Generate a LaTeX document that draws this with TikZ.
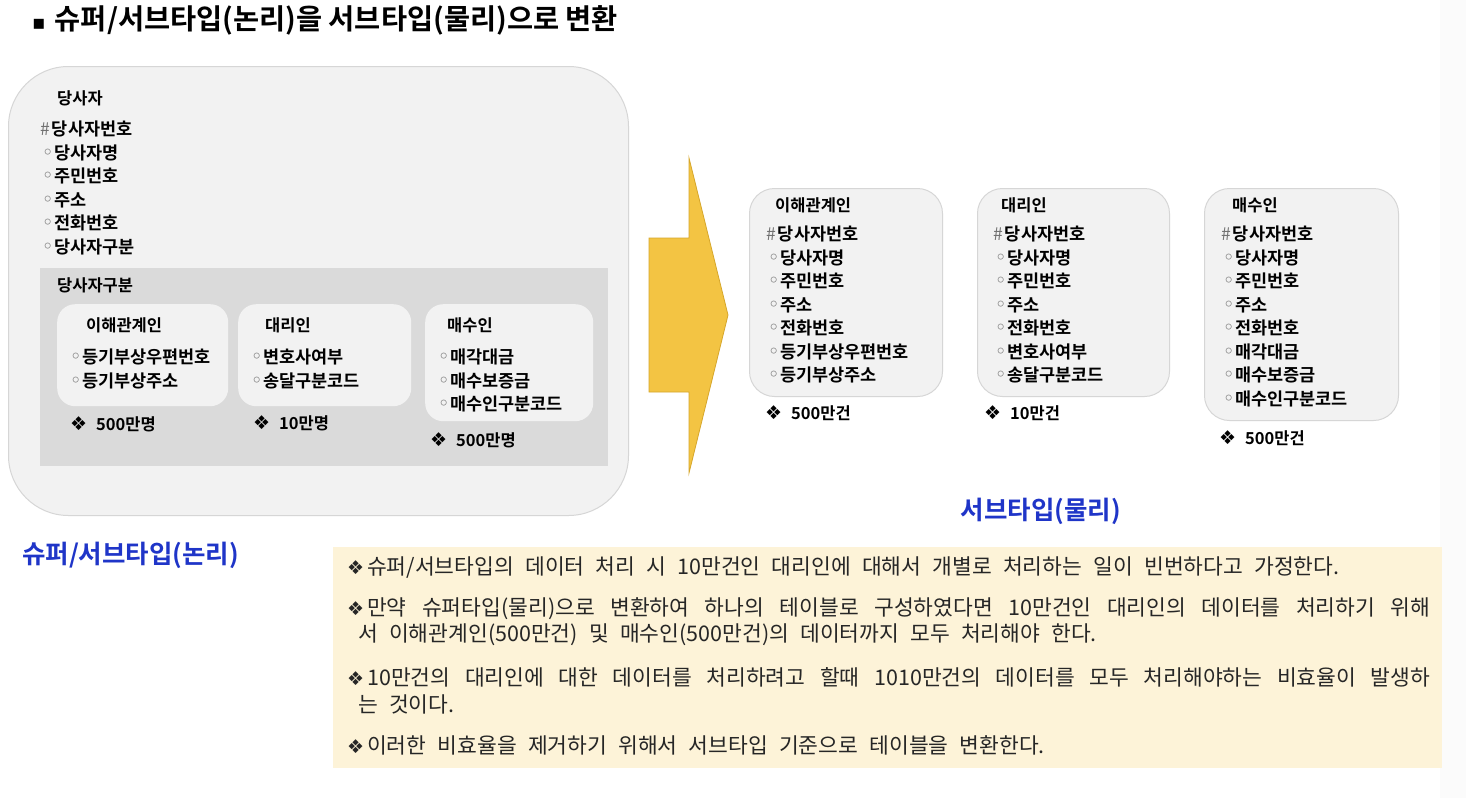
\documentclass[tikz,border=0pt]{standalone}
\usepackage{fontspec}
\setmainfont{Noto Sans CJK KR}[BoldFont={* Bold}]
\newfontfamily\symfont{DejaVu Sans}
\usetikzlibrary{positioning}

\definecolor{boxgray}{HTML}{F2F2F2}
\definecolor{edgegray}{HTML}{D6D6D6}
\definecolor{groupgray}{HTML}{DADADA}
\definecolor{arrowgold}{HTML}{F3C443}
\definecolor{arrowedge}{HTML}{D6A62A}
\definecolor{labelblue}{HTML}{1F35C8}
\definecolor{notecream}{HTML}{FDF3D8}
\definecolor{keygray}{HTML}{707070}
\definecolor{notetext}{HTML}{262626}

\newcommand{\keymark}{{\mdseries\color{keygray}\#}\hspace{2pt}}
\newcommand{\attrdot}{\makebox[11pt][c]{\symfont\mdseries\color{keygray}\fontsize{20}{20}\selectfont ◦}\hspace{1pt}}
\newcommand{\countmark}{\makebox[14pt][l]{\symfont\fontsize{19}{19}\selectfont ❖}}
\newcommand{\notespacing}{\spaceskip=0.52em plus 1fil\relax}

\begin{document}
\begin{tikzpicture}[
			x=1pt, y=-1pt,
			node distance=10pt and 10pt,
			bigbox/.style={rectangle, rounded corners=60pt, draw=edgegray, fill=boxgray, line width=1pt, anchor=north west, inner sep=0pt},
			groupbox/.style={rectangle, fill=groupgray, anchor=north west, inner sep=0pt},
			subbox/.style={rectangle, rounded corners=18pt, fill=boxgray, anchor=north west, inner sep=0pt},
			tablebox/.style={rectangle, rounded corners=25pt, draw=edgegray, fill=boxgray, line width=1pt, anchor=north west, inner sep=0pt},
			boxtitle/.style={anchor=west, inner sep=0pt, font=\bfseries\fontsize{16.5}{19}\selectfont},
			attrlist/.style={anchor=north west, inner sep=0pt, align=left, font=\bfseries\fontsize{17.5}{23.5}\selectfont},
			count/.style={anchor=west, inner sep=0pt, font=\bfseries\fontsize{16.5}{20}\selectfont},
			bluelabel/.style={inner sep=0pt, text=labelblue, font=\bfseries\fontsize{25.5}{28}\selectfont},
			noteline/.style={anchor=west, inner sep=0pt, text=notetext, font={\fontsize{21.5}{25}\selectfont\notespacing}}
		]
		\useasboundingbox (0,0) rectangle (1466,798);
		\fill[white] (0,0) rectangle (1466,798);
		\fill[black!1.5] (1440,0) rectangle (1466,798);

		% --- TITOLO ---
		\node (title) [anchor=west, inner sep=0pt, font=\bfseries\fontsize{28.4}{31}\selectfont] at (32,20) {{\symfont\fontsize{20}{20}\selectfont ▪}\hspace{9pt}슈퍼/서브타입(논리)을 서브타입(물리)으로 변환};

		% --- SUPER/SUB TIPO (LOGICO) ---
		\node (party) [bigbox, minimum width=620, minimum height=449] at (8,66) {};
		\node (party_title) [boxtitle] at (57,98) {당사자};
		\node (party_attrs) [attrlist] at (40,121) {\keymark 당사자번호\\\hspace{2pt}\attrdot 당사자명\\\hspace{2pt}\attrdot 주민번호\\\hspace{2pt}\attrdot 주소\\\hspace{2pt}\attrdot 전화번호\\\hspace{2pt}\attrdot 당사자구분};

		% Blocco sottotipi
		\node (group) [groupbox, minimum width=568, minimum height=198] at (40,268) {};
		\node (group_title) [boxtitle] at (57,285) {당사자구분};

		\node (sub_int) [subbox, minimum width=171, minimum height=102] at (57,304) {};
		\node (sub_int_title) [boxtitle] at (86,325) {이해관계인};
		\node (sub_int_attrs) [attrlist] at (70,349) {\attrdot 등기부상우편번호\\\attrdot 등기부상주소};
		\node (sub_int_cnt) [count] at (70,424) {\countmark\hspace{12pt}500만명};

		\node (sub_agt) [subbox, minimum width=173, minimum height=102] at (238,304) {};
		\node (sub_agt_title) [boxtitle] at (265,325) {대리인};
		\node (sub_agt_attrs) [attrlist] at (251,349) {\attrdot 변호사여부\\\attrdot 송달구분코드};
		\node (sub_agt_cnt) [count] at (253,423) {\countmark\hspace{12pt}10만명};

		\node (sub_buy) [subbox, minimum width=168, minimum height=117] at (425,304) {};
		\node (sub_buy_title) [boxtitle] at (447,325) {매수인};
		\node (sub_buy_attrs) [attrlist] at (438,349) {\attrdot 매각대금\\\attrdot 매수보증금\\\attrdot 매수인구분코드};
		\node (sub_buy_cnt) [count] at (430,440) {\countmark\hspace{12pt}500만명};

		\node (logic_label) [bluelabel, anchor=west] at (22,555) {슈퍼/서브타입(논리)};

		% --- FRECCIA DI CONVERSIONE ---
		\filldraw[fill=arrowgold, draw=arrowedge, line width=0.8pt] (649,238) -- (689,238) -- (689,158) -- (728,315) -- (689,473) -- (689,392) -- (649,392) -- cycle;

		% --- SOTTOTIPI (FISICO) ---
		\node (tab_int) [tablebox, minimum width=193, minimum height=208] at (749,188) {};
		\node (tab_int_title) [boxtitle] at (775,205) {이해관계인};
		\node (tab_int_attrs) [attrlist] at (766,226) {\keymark 당사자번호\\\hspace{2pt}\attrdot 당사자명\\\hspace{2pt}\attrdot 주민번호\\\hspace{2pt}\attrdot 주소\\\hspace{2pt}\attrdot 전화번호\\\hspace{2pt}\attrdot 등기부상우편번호\\\hspace{2pt}\attrdot 등기부상주소};
		\node (tab_int_cnt) [count] at (765,413) {\countmark\hspace{12pt}500만건};

		\node (tab_agt) [tablebox, minimum width=192, minimum height=208] at (977,188) {};
		\node (tab_agt_title) [boxtitle] at (1001,205) {대리인};
		\node (tab_agt_attrs) [attrlist] at (993,226) {\keymark 당사자번호\\\hspace{2pt}\attrdot 당사자명\\\hspace{2pt}\attrdot 주민번호\\\hspace{2pt}\attrdot 주소\\\hspace{2pt}\attrdot 전화번호\\\hspace{2pt}\attrdot 변호사여부\\\hspace{2pt}\attrdot 송달구분코드};
		\node (tab_agt_cnt) [count] at (984,413) {\countmark\hspace{12pt}10만건};

		\node (tab_buy) [tablebox, minimum width=194, minimum height=232] at (1204,188) {};
		\node (tab_buy_title) [boxtitle] at (1232,205) {매수인};
		\node (tab_buy_attrs) [attrlist] at (1221,226) {\keymark 당사자번호\\\hspace{2pt}\attrdot 당사자명\\\hspace{2pt}\attrdot 주민번호\\\hspace{2pt}\attrdot 주소\\\hspace{2pt}\attrdot 전화번호\\\hspace{2pt}\attrdot 매각대금\\\hspace{2pt}\attrdot 매수보증금\\\hspace{2pt}\attrdot 매수인구분코드};
		\node (tab_buy_cnt) [count] at (1219,438) {\countmark\hspace{12pt}500만건};

		\node (phys_label) [bluelabel] at (1041,511) {서브타입(물리)};

		% --- NOTE ---
		\node (notes) [rectangle, fill=notecream, anchor=north west, inner sep=0pt, minimum width=1109, minimum height=221] at (333,547) {};
		\node (note1) [noteline] at (347,568) {\countmark\hspace{6pt}슈퍼/서브타입의 데이터 처리 시 10만건인 대리인에 대해서 개별로 처리하는 일이 빈번하다고 가정한다.};
		\node (note2) [noteline] at (347,609) {\makebox[1083pt][s]{\countmark\hspace{6pt}만약 슈퍼타입(물리)으로 변환하여 하나의 테이블로 구성하였다면 10만건인 대리인의 데이터를 처리하기 위해}};
		\node (note2b) [noteline] at (358,635) {서 이해관계인(500만건) 및 매수인(500만건)의 데이터까지 모두 처리해야 한다.};
		\node (note3) [noteline] at (347,677) {\makebox[1083pt][s]{\countmark\hspace{6pt}10만건의 대리인에 대한 데이터를 처리하려고 할때 1010만건의 데이터를 모두 처리해야하는 비효율이 발생하}};
		\node (note3b) [noteline] at (358,704) {는 것이다.};
		\node (note4) [noteline] at (347,745) {\countmark\hspace{6pt}이러한 비효율을 제거하기 위해서 서브타입 기준으로 테이블을 변환한다.};
	\end{tikzpicture}
\end{document}
